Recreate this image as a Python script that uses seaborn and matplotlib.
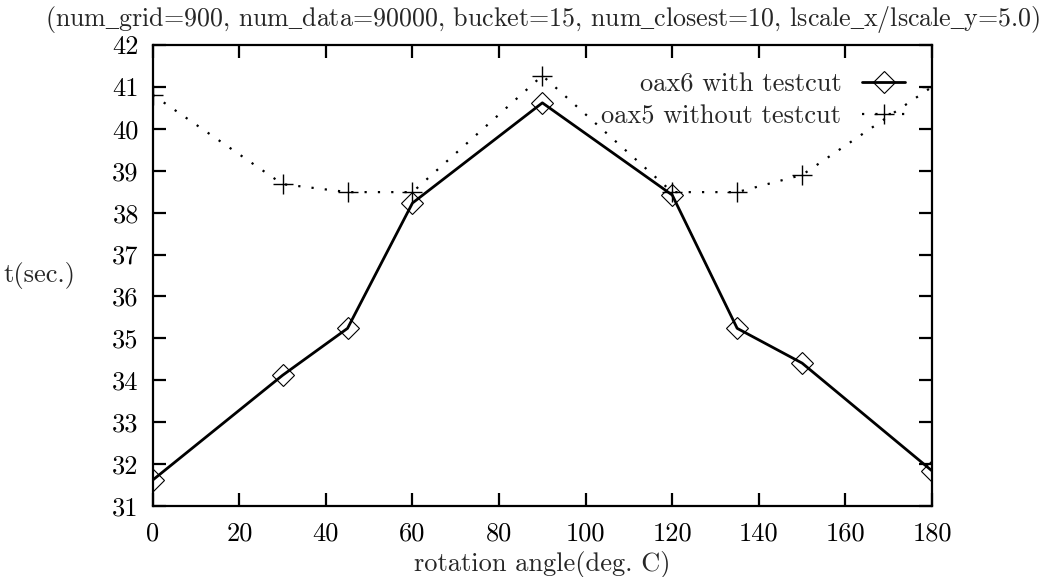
import pandas as pd
import matplotlib
matplotlib.use('Agg')
import matplotlib.pyplot as plt
import seaborn as sns

# Data
angles = [0, 30, 45, 60, 90, 120, 135, 150, 180]
oax6_with_testcut = [31.62, 34.12, 35.24, 38.23, 40.62, 38.42, 35.24, 34.41, 31.84]
oax5_without_testcut = [40.81, 38.68, 38.49, 38.49, 41.27, 38.49, 38.49, 38.90, 41.00]

x_ticks = list(range(0, 181, 20))
y_ticks = list(range(31, 43))

# cmr10 has no plain underscore glyph, so draw it through mathtext
title = ('(num_grid=900, num_data=90000, bucket=15, num_closest=10, '
         'lscale_x/lscale_y=5.0)').replace('_', r'$\mathrm{\_}$')

df = pd.DataFrame({
    'angle': angles,
    'oax6': oax6_with_testcut,
    'oax5': oax5_without_testcut,
})

sns.set_style('ticks')
plt.rcParams['font.family'] = ['cmr10', 'DejaVu Serif']
plt.rcParams['mathtext.fontset'] = 'custom'
plt.rcParams['mathtext.rm'] = 'Liberation Serif'
plt.rcParams['axes.formatter.use_mathtext'] = False

FS = 19

fig = plt.figure(figsize=(10.39, 5.77), dpi=100)
ax = fig.add_axes([0.147, 0.123, 0.75, 0.799])

sns.lineplot(data=df, x='angle', y='oax6', ax=ax, color='black', linewidth=2.0,
             marker='D', markersize=11, markerfacecolor='none', markeredgecolor='black',
             markeredgewidth=0.8, label='oax6 with testcut')
sns.lineplot(data=df, x='angle', y='oax5', ax=ax, color='black', linewidth=1.6,
             linestyle=(0, (1, 5)), dash_capstyle='butt',
             marker='+', markersize=14, markeredgecolor='black', markeredgewidth=1.0,
             label='oax5 without testcut')

ax.set_xlim(0, 180)
ax.set_ylim(31, 42)
ax.set_xticks(x_ticks)
ax.set_yticks(y_ticks)

for s in ax.spines.values():
    s.set_visible(True)
    s.set_linewidth(1.6)
    s.set_color('black')

ax.tick_params(axis='both', which='major', direction='in', length=9.5, width=1.6,
               top=True, right=True, labelsize=FS, colors='black')
ax.tick_params(axis='x', pad=11)
ax.tick_params(axis='y', pad=10)

ax.set_xlabel('rotation angle(deg. C)', fontsize=FS, labelpad=4)
ax.set_ylabel('t(sec.)', fontsize=FS, rotation=0, ha='center', va='center')
ax.yaxis.set_label_coords(-0.145, 0.5)
ax.set_title(title, fontsize=18.7, pad=14)

ax.legend(loc='upper right', bbox_to_anchor=(0.965, 0.94), frameon=False,
          markerfirst=False, fontsize=FS, handlelength=1.6, handletextpad=0.8,
          labelspacing=0.3, numpoints=1, borderaxespad=0.0, borderpad=0.0)

fig.savefig('out.png', dpi=100)
